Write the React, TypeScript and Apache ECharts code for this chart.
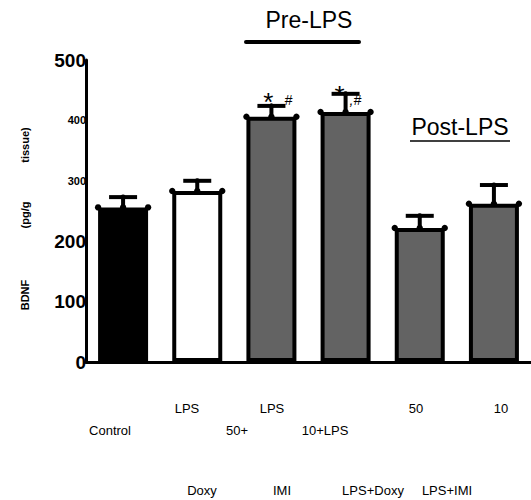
import React, { useEffect, useRef } from "react";
import * as echarts from "echarts";

const categories = ["Control", "LPS", "Doxy 50+LPS", "IMI 10+LPS", "LPS+Doxy 50", "LPS+IMI 10"];
const meanValues = [256, 283, 406, 414, 222, 262];
const semValues = [17, 17, 18, 30, 20, 31];
const barFills = ["#000000", "#ffffff", "#636363", "#636363", "#636363", "#636363"];
const bigTicks = [500, 200, 100, 0];

const labelRow1 = ["LPS", "LPS", "50", "10"];
const labelRow2 = ["Control", "50+", "10+LPS"];
const labelRow3 = ["Doxy", "IMI", "LPS+Doxy", "LPS+IMI"];
const row1X = [187, 272, 416, 501];
const row2X = [110, 237, 325];
const row3X = [202, 282, 373, 447];

const FONT = "Liberation Sans, Arial, Helvetica, sans-serif";

export default function App() {
  const ref = useRef<HTMLDivElement>(null);
  useEffect(() => {
    if (!ref.current) return;
    const chart = echarts.init(ref.current, undefined, { renderer: "svg" });

    const xTexts: any[] = [];
    labelRow1.forEach((t, i) => xTexts.push({ type: "text", x: row1X[i], y: 408, style: { text: t, font: `13px ${FONT}`, fill: "#000", align: "center", verticalAlign: "middle" } }));
    labelRow2.forEach((t, i) => xTexts.push({ type: "text", x: row2X[i], y: 430, style: { text: t, font: `13px ${FONT}`, fill: "#000", align: "center", verticalAlign: "middle" } }));
    labelRow3.forEach((t, i) => xTexts.push({ type: "text", x: row3X[i], y: 490, style: { text: t, font: `13px ${FONT}`, fill: "#000", align: "center", verticalAlign: "middle" } }));

    const yName = [
      { t: "tissue)", y: 145 },
      { t: "(pg/g", y: 215 },
      { t: "BDNF", y: 295 },
    ].map((o) => ({
      type: "text",
      x: 25,
      y: o.y,
      rotation: Math.PI / 2,
      style: { text: o.t, font: `bold 11px ${FONT}`, fill: "#000", align: "center", verticalAlign: "middle" },
    }));

    const option: any = {
      animation: false,
      backgroundColor: "#ffffff",
      grid: { left: 86, top: 60, width: 447.6, height: 302 },
      xAxis: {
        type: "category",
        data: categories,
        axisLine: { show: true, lineStyle: { color: "#000", width: 3 } },
        axisTick: { show: false },
        axisLabel: { show: false },
      },
      yAxis: {
        type: "value",
        min: 0,
        max: 500,
        interval: 100,
        splitLine: { show: false },
        axisTick: { show: false },
        axisLine: { show: true, lineStyle: { color: "#000", width: 3 } },
        axisLabel: {
          margin: 0,
          formatter: (v: number) => (bigTicks.indexOf(v) >= 0 ? `{b|${v}}` : `{s|${v}}`),
          rich: {
            b: { fontFamily: FONT, fontWeight: "bold", fontSize: 19, color: "#000" },
            s: { fontFamily: FONT, fontWeight: "bold", fontSize: 11, color: "#000" },
          },
        },
      },
      series: [
        {
          type: "bar",
          data: meanValues.map((v, i) => ({ value: v, itemStyle: { color: barFills[i] } })),
          barWidth: 50,
          itemStyle: { borderColor: "#000", borderWidth: 4 },
        },
        {
          type: "custom",
          data: meanValues.map((v, i) => [i, v, semValues[i]]),
          renderItem: (params: any, api: any) => {
            const idx = api.value(0);
            const mean = api.value(1);
            const sem = api.value(2);
            const top = api.coord([idx, mean]);
            const cap = api.coord([idx, mean + sem]);
            const cx = top[0];
            const ty = top[1];
            const cy = cap[1];
            const children: any[] = [
              { type: "line", shape: { x1: cx, y1: ty, x2: cx, y2: cy }, style: { stroke: "#000", lineWidth: 4 } },
              { type: "line", shape: { x1: cx - 14, y1: cy, x2: cx + 14, y2: cy }, style: { stroke: "#000", lineWidth: 4 } },
              { type: "circle", shape: { cx: cx - 25, cy: ty, r: 3.2 }, style: { fill: "#000" } },
              { type: "circle", shape: { cx: cx, cy: ty, r: 3.2 }, style: { fill: "#000" } },
              { type: "circle", shape: { cx: cx + 25, cy: ty, r: 3.2 }, style: { fill: "#000" } },
              { type: "circle", shape: { cx: cx, cy: cy, r: 2.6 }, style: { fill: "#000" } },
            ];
            if (idx === 2) {
              children.push({ type: "text", style: { text: "*", x: cx - 3, y: cy - 4, font: `26px ${FONT}`, fill: "#000", align: "center", verticalAlign: "middle" } });
              children.push({ type: "text", style: { text: "#", x: cx + 17, y: cy - 6, font: `italic 14px ${FONT}`, fill: "#000", align: "center", verticalAlign: "middle" } });
            }
            if (idx === 3) {
              children.push({ type: "text", style: { text: "*", x: cx - 6, y: cy + 1, font: `26px ${FONT}`, fill: "#000", align: "center", verticalAlign: "middle" } });
              children.push({ type: "text", style: { text: ",#", x: cx + 4, y: cy + 6, font: `italic 14px ${FONT}`, fill: "#000", align: "left", verticalAlign: "middle" } });
            }
            return { type: "group", children };
          },
          z: 5,
        },
      ],
      graphic: [
        { type: "text", x: 309, y: 20, style: { text: "Pre-LPS", font: `23px ${FONT}`, fill: "#000", align: "center", verticalAlign: "middle" } },
        { type: "line", shape: { x1: 246, y1: 42, x2: 359, y2: 42 }, style: { stroke: "#000", lineWidth: 4, lineCap: "round" } },
        { type: "text", x: 460, y: 127, style: { text: "Post-LPS", font: `23px ${FONT}`, fill: "#000", align: "center", verticalAlign: "middle" } },
        { type: "line", shape: { x1: 410, y1: 141, x2: 510, y2: 141 }, style: { stroke: "#000", lineWidth: 1.5 } },
        ...yName,
        ...xTexts,
      ],
    };
    chart.setOption(option);
    return () => chart.dispose();
  }, []);
  return <div ref={ref} style={{ position: "fixed", left: 0, top: 0, width: 531, height: 500 }} />;
}
